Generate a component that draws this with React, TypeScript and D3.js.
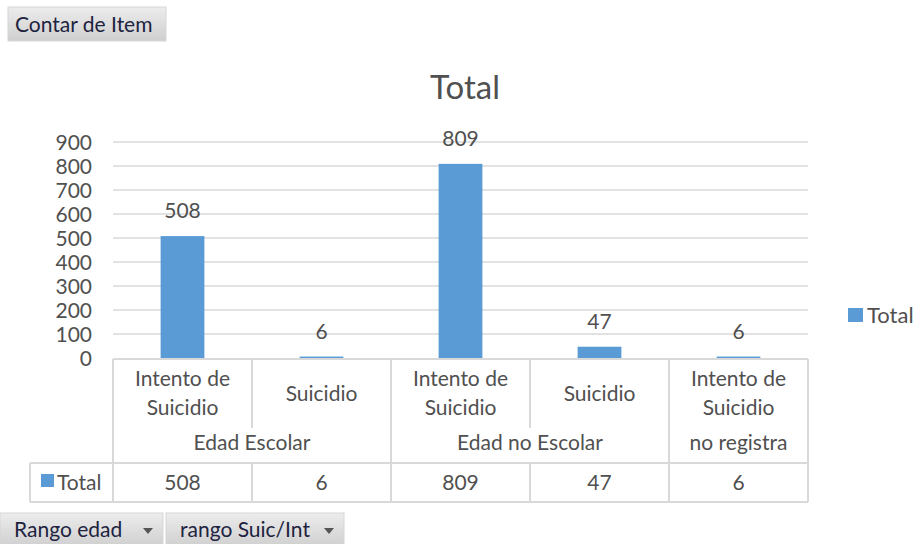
import React from "react";
import * as d3 from "d3";

const groups = ["Edad Escolar", "Edad Escolar", "Edad no Escolar", "Edad no Escolar", "no registra"];
const types = ["Intento de Suicidio", "Suicidio", "Intento de Suicidio", "Suicidio", "Intento de Suicidio"];
const values = [508, 6, 809, 47, 6];
const yTicks = [0, 100, 200, 300, 400, 500, 600, 700, 800, 900];
const seriesName = "Total";
const title = "Total";
const topButton = "Contar de Item";
const bottomButtons = ["Rango edad", "rango Suic/Int"];

const W = 917, H = 544;
const FONT = "Lato, 'Noto Sans', sans-serif";
const TXT = "#505050";
const GRID = "#d9d9d9";
const BAR = "#5b9bd5";

export default function App() {
  const idx = values.map((_, i) => String(i));
  const x = d3.scaleBand<string>().domain(idx).range([113, 808]).padding(0);
  const y = d3.scaleLinear().domain([0, 900]).range([358, 142]);
  const bw = x.bandwidth();
  const barW = bw * 0.315;

  const spans: { name: string; start: number; end: number }[] = [];
  groups.forEach((g, i) => {
    const last = spans[spans.length - 1];
    if (last && last.name === g) last.end = i;
    else spans.push({ name: g, start: i, end: i });
  });

  const tTop = 359, tCat = 428, tGrp = 463, tBot = 502;

  return (
    <svg width={W} height={H} style={{ position: "absolute", left: 0, top: 0 }} fontFamily={FONT}>
      <defs>
        <linearGradient id="btn" x1="0" y1="0" x2="0" y2="1">
          <stop offset="0" stopColor="#ececec" />
          <stop offset="1" stopColor="#cfcfcf" />
        </linearGradient>
      </defs>
      <rect width={W} height={H} fill="#fff" />

      <rect x={8} y={7} width={158} height={34} fill="url(#btn)" stroke="#d6d6d6" />
      <text x={15} y={32} fontSize={21} fill="#1d2340">{topButton}</text>

      <text x={465} y={99} fontSize={33} fill={TXT} textAnchor="middle">{title}</text>

      {yTicks.filter(t => t > 0).map(t => (
        <line key={t} x1={113} x2={808} y1={y(t)} y2={y(t)} stroke={GRID} strokeWidth={1.5} />
      ))}
      {yTicks.map(t => (
        <text key={"l" + t} x={92} y={y(t)} dy="0.36em" fontSize={21} fill={TXT} textAnchor="end">{t}</text>
      ))}

      {values.map((v, i) => (
        <g key={i}>
          <rect x={x(idx[i])! + (bw - barW) / 2} y={y(v)} width={barW} height={y(0) - y(v)} fill={BAR} />
          <text x={x(idx[i])! + bw / 2} y={y(v) - 18} fontSize={21} fill={TXT} textAnchor="middle">{v}</text>
        </g>
      ))}

      <g stroke={GRID} strokeWidth={2} fill="none">
        <line x1={113} x2={808} y1={tTop} y2={tTop} />
        <line x1={30} x2={808} y1={tGrp} y2={tGrp} />
        <line x1={30} x2={808} y1={tBot} y2={tBot} />
        <line x1={30} x2={30} y1={tGrp} y2={tBot} />
        <line x1={113} x2={113} y1={tTop} y2={tBot} />
        <line x1={808} x2={808} y1={tTop} y2={tBot} />
        {idx.slice(1).map((k, i) => {
          const isGroupBoundary = groups[i] !== groups[i + 1];
          return <line key={k} x1={x(k)!} x2={x(k)!} y1={tTop} y2={isGroupBoundary ? tBot : tCat} />;
        })}
        {idx.slice(1).map(k => (
          <line key={"b" + k} x1={x(k)!} x2={x(k)!} y1={tGrp} y2={tBot} />
        ))}
      </g>

      {types.map((t, i) => {
        const cx = x(idx[i])! + bw / 2;
        const words = t.split(" ");
        const lines = words.length > 2 ? [words.slice(0, 2).join(" "), words.slice(2).join(" ")] : [t];
        const y0 = lines.length === 2 ? 378 : 393;
        return (
          <text key={i} x={cx} y={y0} fontSize={21} fill={TXT} textAnchor="middle">
            {lines.map((l, j) => (
              <tspan key={j} x={cx} dy={j === 0 ? "0.36em" : 29}>{l}</tspan>
            ))}
          </text>
        );
      })}

      {spans.map(s => {
        const cx = (x(idx[s.start])! + x(idx[s.end])! + bw) / 2;
        return (
          <text key={s.name} x={cx} y={442} dy="0.36em" fontSize={21} fill={TXT} textAnchor="middle">{s.name}</text>
        );
      })}

      <rect x={41} y={474} width={13} height={13} fill={BAR} />
      <text x={57} y={482} dy="0.36em" fontSize={21} fill={TXT}>{seriesName}</text>
      {values.map((v, i) => (
        <text key={i} x={x(idx[i])! + bw / 2} y={482} dy="0.36em" fontSize={21} fill={TXT} textAnchor="middle">{v}</text>
      ))}

      <rect x={848} y={308} width={15} height={14} fill={BAR} />
      <text x={867} y={315} dy="0.36em" fontSize={22} fill={TXT}>{seriesName}</text>

      {bottomButtons.map((b, i) => {
        const bx = i === 0 ? 0 : 166;
        const bwid = i === 0 ? 163 : 178;
        return (
          <g key={b}>
            <rect x={bx} y={513} width={bwid} height={34} fill="url(#btn)" stroke="#d6d6d6" />
            <text x={bx + 14} y={537} fontSize={21} fill="#1d2340">{b}</text>
            <path d={`M${bx + bwid - 20},${528} l10,0 l-5,6 z`} fill="#555" />
          </g>
        );
      })}
    </svg>
  );
}
